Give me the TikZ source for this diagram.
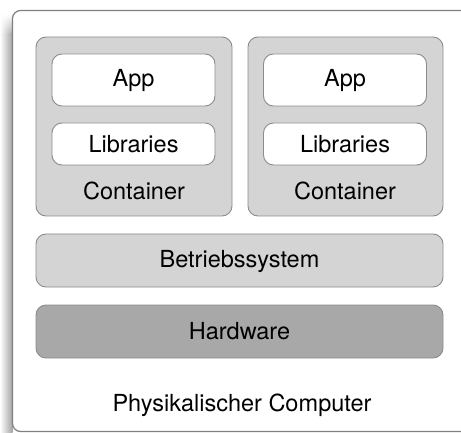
\documentclass[tikz,border=0pt]{standalone}
\usepackage{fontspec}
\setmainfont{TeX Gyre Heros}
\usetikzlibrary{fadings}
\begin{document}
\begin{tikzpicture}[x=1pt,y=-1pt,
  lbl/.style={font=\fontsize{23.5}{27}\selectfont, text=black},
  panel/.style={draw=black!45, line width=0.9pt, rounded corners=10pt},
  gbox/.style={panel, fill=black!17},
  wbox/.style={panel, fill=white},
  hbox/.style={panel, fill=black!34}]
\useasboundingbox (0,0) rectangle (461,433);
\fill[white] (0,0) rectangle (461,433);
% soft shadow on the left of the machine frame
\shade[left color=white, right color=black!36] (0,34) rectangle (12.5,432);
\shade[left color=white, right color=black!36, path fading=north] (0,14) rectangle (12.5,34.5);
% machine frame, open to the right
\draw[black!50, line width=1.2pt, fill=white, rounded corners=8pt]
  (470,10.5) -- (12.5,10.5) -- (12.5,431.5) -- (470,431.5);
% containers
\draw[gbox] (36,37) rectangle (232,216);
\draw[gbox] (248,37) rectangle (443,216);
\node[wbox, minimum width=163pt, minimum height=52pt, anchor=center] (app1) at (133.5,80) {};
\node[lbl] at (app1.center) {App};
\node[wbox, minimum width=163pt, minimum height=42pt, anchor=center] (lib1) at (133.5,144) {};
\node[lbl] at (lib1.center) {Libraries};
\node[lbl] (c1) at (134,191) {Container};
\node[wbox, minimum width=163pt, minimum height=52pt, anchor=center] (app2) at (345,80) {};
\node[lbl] at (app2.center) {App};
\node[wbox, minimum width=163pt, minimum height=42pt, anchor=center] (lib2) at (345,144) {};
\node[lbl] at (lib2.center) {Libraries};
\node[lbl] (c2) at (345,191) {Container};
% operating system and hardware layers
\draw[gbox] (36,234) rectangle (443,287);
\node[lbl] (os) at (239.5,261) {Betriebssystem};
\draw[hbox] (36,305) rectangle (443,358);
\node[lbl] (hw) at (239.5,331) {Hardware};
\node[lbl] (pc) at (242,405) {Physikalischer Computer};
\end{tikzpicture}
\end{document}
